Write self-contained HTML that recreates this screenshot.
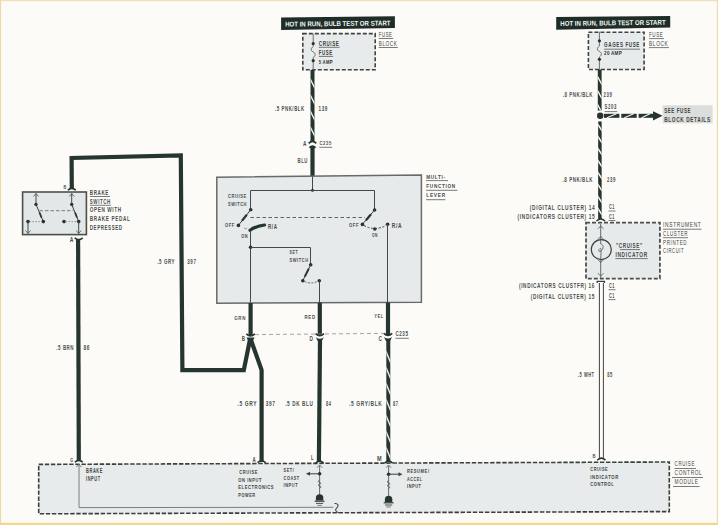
<!DOCTYPE html><html><head><meta charset="utf-8"><style>html,body{margin:0;padding:0;background:#fdfbf8;overflow:hidden}</style></head><body><svg width="718" height="525" viewBox="0 0 718 525" style="display:block">
<rect x="0" y="0" width="718" height="525" fill="#fdfbf8"/>
<rect x="0" y="1" width="718" height="1" fill="#fcf8e4"/>
<rect x="1" y="0" width="1" height="525" fill="#fdf9e2"/>
<rect x="716" y="0" width="1" height="525" fill="#fcf6df"/>
<rect x="0" y="522" width="718" height="1" fill="#fcf5dc"/>
<rect x="0" y="0" width="718" height="1" fill="#ecdfba"/>
<rect x="0" y="0" width="1" height="525" fill="#e9d9b2"/>
<rect x="717" y="0" width="1" height="525" fill="#eedcb0"/>
<rect x="0" y="523" width="718" height="2" fill="#f0d690"/>
<g font-family="Liberation Sans, sans-serif">
<path d="M281.1,17.4 L394.9,16.2 L394.9,28.1 L281.1,30 Z" fill="#1e2d27"/>
<text x="285.1" y="26.0" font-size="6.93" fill="#f6f8f6" font-weight="bold" text-anchor="start" textLength="105.4" lengthAdjust="spacingAndGlyphs" transform="rotate(-0.65 338 23)">HOT IN RUN, BULB TEST OR START</text>
<rect x="302.8" y="33.6" width="72.39999999999998" height="36.199999999999996" fill="#e8ebeb" stroke="#3f4442" stroke-width="1.6" stroke-dasharray="4 2"/>
<path d="M313.2,33.6 L313.2,43.6" fill="none" stroke="#6a706e" stroke-width="1.0" stroke-linejoin="miter" />
<path d="M313.2,43.6 L313.2,46.5" fill="none" stroke="#6a706e" stroke-width="1.0" stroke-linejoin="miter" />
<path d="M313.2,46.5 C310.5,48.5 310.5,50.5 313.2,52 C315.9,53.5 315.9,55.5 313.2,57.5" fill="none" stroke="#5a605e" stroke-width="0.9"/>
<path d="M313.2,57.5 L313.2,69.8" fill="none" stroke="#6a706e" stroke-width="1.0" stroke-linejoin="miter" />
<circle cx="313.2" cy="43.6" r="1.6" fill="#2b302e"/>
<circle cx="313.2" cy="60.7" r="1.6" fill="#2b302e"/>
<text x="318.8" y="45.8" font-size="6.82" fill="#3a3f3d" font-weight="bold" text-anchor="start" textLength="20.6" lengthAdjust="spacingAndGlyphs" letter-spacing="0.9">CRUISE</text>
<line x1="318.8" y1="47.3" x2="339.6" y2="47.3" stroke="#565b59" stroke-width="0.8"/>
<text x="318.8" y="55.2" font-size="6.82" fill="#3a3f3d" font-weight="bold" text-anchor="start" textLength="13.9" lengthAdjust="spacingAndGlyphs" letter-spacing="0.9">FUSE</text>
<line x1="318.8" y1="56.4" x2="333.2" y2="56.4" stroke="#565b59" stroke-width="0.8"/>
<text x="318.8" y="63.7" font-size="5.39" fill="#2c3230" font-weight="bold" text-anchor="start" textLength="13.9" lengthAdjust="spacingAndGlyphs" letter-spacing="0.3">5 AMP</text>
<text x="378.7" y="37.0" font-size="6.6" fill="#3a3f3d" font-weight="normal" text-anchor="start" textLength="13.9" lengthAdjust="spacingAndGlyphs" letter-spacing="0.9">FUSE</text>
<line x1="378.7" y1="38.5" x2="393.2" y2="38.5" stroke="#565b59" stroke-width="0.8"/>
<text x="378.7" y="45.8" font-size="6.6" fill="#3a3f3d" font-weight="normal" text-anchor="start" textLength="18.8" lengthAdjust="spacingAndGlyphs" letter-spacing="0.9">BLOCK</text>
<line x1="378.7" y1="47.5" x2="397.8" y2="47.5" stroke="#565b59" stroke-width="0.8"/>
<line x1="312.5" y1="70" x2="312.5" y2="141.6" stroke="#25352f" stroke-width="4.0"/>
<clipPath id="c312_70"><rect x="310.5" y="70" width="4.0" height="71.6"/></clipPath>
<path d="M310.0,78.5 L315.0,88.5 M310.0,94.5 L315.0,104.5 M310.0,110.5 L315.0,120.5 M310.0,126.5 L315.0,136.5" stroke="#f6f6f2" stroke-width="1.4" fill="none" clip-path="url(#c312_70)"/>
<path d="M308.7,143.4 Q312.5,139.2 316.3,143.4" fill="none" stroke="#25352f" stroke-width="1.7"/>
<path d="M308.7,147.2 Q312.5,143.4 316.3,147.2 L314.6,148.2 L310.4,148.2 Z" fill="#25352f"/>
<path d="M312.5,146.6 L312.5,176.5" fill="none" stroke="#25352f" stroke-width="4.2" stroke-linejoin="miter" />
<text x="303" y="145.8" font-size="6.6" fill="#4a4f4d" font-weight="bold" text-anchor="start" textLength="3.4" lengthAdjust="spacingAndGlyphs">A</text>
<text x="319.4" y="145.3" font-size="6.16" fill="#4a4f4d" font-weight="bold" text-anchor="start" textLength="12.5" lengthAdjust="spacingAndGlyphs" letter-spacing="0.9">C235</text>
<line x1="319.4" y1="147.3" x2="332.2" y2="147.3" stroke="#565b59" stroke-width="0.8"/>
<text x="274.9" y="111.2" font-size="6.93" fill="#4a4f4d" font-weight="bold" text-anchor="start" textLength="29.9" lengthAdjust="spacingAndGlyphs" letter-spacing="0.9">.5 PNK/BLK</text>
<text x="318.6" y="111.2" font-size="6.93" fill="#4a4f4d" font-weight="bold" text-anchor="start" textLength="9.4" lengthAdjust="spacingAndGlyphs" letter-spacing="0.9">139</text>
<text x="297.5" y="163.1" font-size="6.38" fill="#4a4f4d" font-weight="bold" text-anchor="start" textLength="10.5" lengthAdjust="spacingAndGlyphs" letter-spacing="0.9">BLU</text>
<path d="M216.8,177.2 L421.4,175 L421.4,302.2 L216.8,303.2 Z" fill="#e6eaea" stroke="#666b69" stroke-width="1.5"/>
<path d="M312.5,176.5 L312.5,190.5" fill="none" stroke="#434947" stroke-width="1.0" stroke-linejoin="miter" />
<circle cx="312.5" cy="190.3" r="1.5" fill="#2b302e"/>
<path d="M250.5,190.5 L374.5,190.5" fill="none" stroke="#434947" stroke-width="1.0" stroke-linejoin="miter" />
<path d="M250.5,190.5 L250.5,209.7" fill="none" stroke="#434947" stroke-width="1.0" stroke-linejoin="miter" />
<path d="M374.5,190.5 L374.5,210" fill="none" stroke="#434947" stroke-width="1.0" stroke-linejoin="miter" />
<circle cx="250.7" cy="209.7" r="1.8" fill="#2b302e"/>
<circle cx="374.6" cy="210" r="1.8" fill="#2b302e"/>
<path d="M250.7,209.7 L238.4,225.4" fill="none" stroke="#3a403e" stroke-width="1.0" stroke-linejoin="miter" />
<path d="M246.8,214.8 L242,220.8" fill="none" stroke="#2e3432" stroke-width="2.2" stroke-linejoin="miter" />
<circle cx="238.4" cy="225.4" r="1.8" fill="#2b302e"/>
<path d="M244,227.8 Q245.5,229.8 247,228.2" fill="none" stroke="#6a706e" stroke-width="0.7"/>
<path d="M250,230.3 Q256,226 264.5,225" fill="none" stroke="#25352f" stroke-width="3.2" stroke-linecap="round"/>
<path d="M250.5,230.5 L250.5,302.5" fill="none" stroke="#434947" stroke-width="1.0" stroke-linejoin="miter" />
<circle cx="250.6" cy="247.3" r="1.8" fill="#2b302e"/>
<path d="M250.5,247.5 L310.5,247.5" fill="none" stroke="#434947" stroke-width="1.0" stroke-linejoin="miter" />
<path d="M310.5,247.5 L310.5,264.7" fill="none" stroke="#434947" stroke-width="1.0" stroke-linejoin="miter" />
<circle cx="310.7" cy="264.7" r="1.8" fill="#2b302e"/>
<path d="M310.7,264.7 L302.8,280.7" fill="none" stroke="#3a403e" stroke-width="1.0" stroke-linejoin="miter" />
<path d="M308.8,268.6 L304.8,276.6" fill="none" stroke="#2e3432" stroke-width="2.0" stroke-linejoin="miter" />
<circle cx="302.8" cy="280.7" r="1.8" fill="#2b302e"/>
<circle cx="319.3" cy="280.7" r="1.8" fill="#2b302e"/>
<path d="M304.5,281.5 Q311,284.5 317.5,281.5" fill="none" stroke="#4a504e" stroke-width="0.9" stroke-dasharray="2 1.5"/>
<path d="M319.5,280.7 L319.5,302.5" fill="none" stroke="#434947" stroke-width="1.0" stroke-linejoin="miter" />
<path d="M250.5,217.5 L365,217.5" fill="none" stroke="#4f5553" stroke-width="0.9" stroke-linejoin="miter" stroke-dasharray="3.5 2.5"/>
<path d="M374.6,210 L362.4,224.4" fill="none" stroke="#3a403e" stroke-width="1.0" stroke-linejoin="miter" />
<path d="M371,214.2 L366,220.2" fill="none" stroke="#2e3432" stroke-width="2.2" stroke-linejoin="miter" />
<circle cx="362.4" cy="224.4" r="1.8" fill="#2b302e"/>
<circle cx="374.8" cy="229" r="1.8" fill="#2b302e"/>
<circle cx="387.6" cy="224.2" r="1.8" fill="#2b302e"/>
<path d="M364,225.5 Q374.8,231.5 386,225.5" fill="none" stroke="#3f4543" stroke-width="1" stroke-dasharray="2.2 1.6"/>
<path d="M387.5,224.2 L387.5,302.5" fill="none" stroke="#434947" stroke-width="1.0" stroke-linejoin="miter" />
<text x="228" y="198.2" font-size="6.16" fill="#4a4f4d" font-weight="bold" text-anchor="start" textLength="18.7" lengthAdjust="spacingAndGlyphs" letter-spacing="0.9">CRUISE</text>
<text x="228" y="205.8" font-size="6.16" fill="#4a4f4d" font-weight="bold" text-anchor="start" textLength="19" lengthAdjust="spacingAndGlyphs" letter-spacing="0.9">SWITCH</text>
<text x="224.9" y="227.4" font-size="6.16" fill="#4a4f4d" font-weight="bold" text-anchor="start" textLength="9.9" lengthAdjust="spacingAndGlyphs" letter-spacing="0.9">OFF</text>
<text x="241.2" y="237.7" font-size="6.16" fill="#4a4f4d" font-weight="bold" text-anchor="start" textLength="7" lengthAdjust="spacingAndGlyphs" letter-spacing="0.9">ON</text>
<text x="268" y="228.6" font-size="6.82" fill="#454a48" font-weight="bold" text-anchor="start" textLength="9.5" lengthAdjust="spacingAndGlyphs" letter-spacing="0.9">R/A</text>
<text x="289.5" y="254.4" font-size="6.16" fill="#4a4f4d" font-weight="bold" text-anchor="start" textLength="8.7" lengthAdjust="spacingAndGlyphs" letter-spacing="0.9">SET</text>
<text x="289.5" y="262" font-size="6.16" fill="#4a4f4d" font-weight="bold" text-anchor="start" textLength="19.1" lengthAdjust="spacingAndGlyphs" letter-spacing="0.9">SWITCH</text>
<text x="349" y="227.2" font-size="6.16" fill="#4a4f4d" font-weight="bold" text-anchor="start" textLength="10" lengthAdjust="spacingAndGlyphs" letter-spacing="0.9">OFF</text>
<text x="372" y="237.1" font-size="6.16" fill="#4a4f4d" font-weight="bold" text-anchor="start" textLength="6" lengthAdjust="spacingAndGlyphs" letter-spacing="0.9">ON</text>
<text x="391.8" y="227.5" font-size="6.82" fill="#454a48" font-weight="bold" text-anchor="start" textLength="10.4" lengthAdjust="spacingAndGlyphs" letter-spacing="0.9">R/A</text>
<text x="426.3" y="178.9" font-size="5.83" fill="#454a48" font-weight="bold" text-anchor="start" textLength="19.5" lengthAdjust="spacingAndGlyphs" letter-spacing="0.9">MULTI-</text>
<line x1="426" y1="180.6" x2="448" y2="180.6" stroke="#565b59" stroke-width="0.8"/>
<text x="426.3" y="188.0" font-size="5.83" fill="#454a48" font-weight="bold" text-anchor="start" textLength="29.6" lengthAdjust="spacingAndGlyphs" letter-spacing="0.9">FUNCTION</text>
<line x1="426" y1="190.3" x2="457.5" y2="190.3" stroke="#565b59" stroke-width="0.8"/>
<text x="426.3" y="197.4" font-size="5.83" fill="#454a48" font-weight="bold" text-anchor="start" textLength="19.5" lengthAdjust="spacingAndGlyphs" letter-spacing="0.9">LEVER</text>
<line x1="426" y1="199.7" x2="445.5" y2="199.7" stroke="#565b59" stroke-width="0.8"/>
<path d="M250.6,303 L250.6,335.2" fill="none" stroke="#25352f" stroke-width="4.2" stroke-linejoin="miter" />
<path d="M246.3,333.8 Q250.6,337.8 254.9,333.8" fill="none" stroke="#25352f" stroke-width="1.6"/>
<path d="M319.8,302.5 L319.8,335" fill="none" stroke="#25352f" stroke-width="4.2" stroke-linejoin="miter" />
<path d="M315.6,333.6 Q319.8,337.6 324,333.6" fill="none" stroke="#25352f" stroke-width="1.6"/>
<path d="M388,302.5 L388,335" fill="none" stroke="#25352f" stroke-width="4.2" stroke-linejoin="miter" />
<path d="M383.8,333.4 Q388,337.4 392.2,333.4" fill="none" stroke="#25352f" stroke-width="1.6"/>
<path d="M255,334.6 L384,333.4" fill="none" stroke="#8a8f8d" stroke-width="0.8" stroke-linejoin="miter" stroke-dasharray="4 3"/>
<path d="M246.5,337.6 L254.6,337.6 L252.8,341 L248.3,341 Z" fill="#25352f"/>
<path d="M315.8,337.2 Q319.8,340.4 323.8,337.2 L321.9,341 L317.7,341 Z" fill="#25352f"/>
<path d="M384,337 Q388,340.2 392,337 L390.1,341 L385.9,341 Z" fill="#25352f"/>
<path d="M250.8,339.5 L261.6,370 L261.6,462" fill="none" stroke="#25352f" stroke-width="4.2" stroke-linejoin="miter" />
<path d="M320,339.5 L318.9,461.5" fill="none" stroke="#25352f" stroke-width="4.2" stroke-linejoin="miter" />
<line x1="388.3" y1="339.5" x2="388.3" y2="461.5" stroke="#25352f" stroke-width="4.0"/>
<clipPath id="c388_339"><rect x="386.3" y="339.5" width="4.0" height="122.0"/></clipPath>
<path d="M385.8,351.0 L390.8,363.0 M385.8,367.0 L390.8,379.0 M385.8,383.0 L390.8,395.0 M385.8,399.0 L390.8,411.0 M385.8,415.0 L390.8,427.0 M385.8,431.0 L390.8,443.0 M385.8,447.0 L390.8,459.0" stroke="#f6f6f2" stroke-width="1.4" fill="none" clip-path="url(#c388_339)"/>
<path d="M71.8,189 L71.6,158 L180.8,155.4 L182.4,370.1 L243.8,370.1 L250,339.5" fill="none" stroke="#25352f" stroke-width="4.2" stroke-linejoin="miter" />
<text x="234.2" y="319.9" font-size="6.16" fill="#4a4f4d" font-weight="bold" text-anchor="start" textLength="11.8" lengthAdjust="spacingAndGlyphs" letter-spacing="0.9">GRN</text>
<text x="304.5" y="318.8" font-size="6.16" fill="#4a4f4d" font-weight="bold" text-anchor="start" textLength="11.2" lengthAdjust="spacingAndGlyphs" letter-spacing="0.9">RED</text>
<text x="374.2" y="318.2" font-size="6.16" fill="#4a4f4d" font-weight="bold" text-anchor="start" textLength="9.6" lengthAdjust="spacingAndGlyphs" letter-spacing="0.9">YEL</text>
<text x="241.8" y="341" font-size="6.6" fill="#4a4f4d" font-weight="bold" text-anchor="start" textLength="3.2" lengthAdjust="spacingAndGlyphs">B</text>
<text x="309.6" y="341.2" font-size="6.6" fill="#4a4f4d" font-weight="bold" text-anchor="start" textLength="3.4" lengthAdjust="spacingAndGlyphs">D</text>
<text x="378.4" y="341.2" font-size="6.6" fill="#4a4f4d" font-weight="bold" text-anchor="start" textLength="3.4" lengthAdjust="spacingAndGlyphs">C</text>
<text x="395.4" y="335.8" font-size="6.38" fill="#4a4f4d" font-weight="bold" text-anchor="start" textLength="13.2" lengthAdjust="spacingAndGlyphs" letter-spacing="0.9">C235</text>
<line x1="395.4" y1="338.3" x2="408.8" y2="338.3" stroke="#565b59" stroke-width="0.8"/>
<text x="237.5" y="405.5" font-size="6.82" fill="#4a4f4d" font-weight="bold" text-anchor="start" textLength="19.6" lengthAdjust="spacingAndGlyphs" letter-spacing="0.9">.5 GRY</text>
<text x="265.8" y="405.5" font-size="6.82" fill="#4a4f4d" font-weight="bold" text-anchor="start" textLength="9.8" lengthAdjust="spacingAndGlyphs" letter-spacing="0.9">397</text>
<text x="285.2" y="405.5" font-size="6.82" fill="#4a4f4d" font-weight="bold" text-anchor="start" textLength="28.3" lengthAdjust="spacingAndGlyphs" letter-spacing="0.9">.5 DK BLU</text>
<text x="326" y="405.5" font-size="6.82" fill="#4a4f4d" font-weight="bold" text-anchor="start" textLength="5.5" lengthAdjust="spacingAndGlyphs" letter-spacing="0.9">84</text>
<text x="349" y="405.5" font-size="6.82" fill="#4a4f4d" font-weight="bold" text-anchor="start" textLength="33.4" lengthAdjust="spacingAndGlyphs" letter-spacing="0.9">.5 GRY/BLK</text>
<text x="393" y="405.5" font-size="6.82" fill="#4a4f4d" font-weight="bold" text-anchor="start" textLength="5.5" lengthAdjust="spacingAndGlyphs" letter-spacing="0.9">87</text>
<text x="157.3" y="264" font-size="6.82" fill="#4a4f4d" font-weight="bold" text-anchor="start" textLength="17.7" lengthAdjust="spacingAndGlyphs" letter-spacing="0.9">.5 GRY</text>
<text x="187.3" y="264" font-size="6.82" fill="#4a4f4d" font-weight="bold" text-anchor="start" textLength="9.2" lengthAdjust="spacingAndGlyphs" letter-spacing="0.9">397</text>
<rect x="22.6" y="192" width="63.8" height="42.6" fill="#e2e7e7" stroke="#4a504e" stroke-width="1.6"/>
<path d="M36,193.5 L36,204.4" fill="none" stroke="#434947" stroke-width="1.0" stroke-linejoin="miter" />
<path d="M33.5,196.5 L36,193.5 L38.5,196.5" fill="none" stroke="#50565a" stroke-width="0.8"/>
<circle cx="36" cy="204.4" r="1.7" fill="#2b302e"/>
<path d="M36,204.4 L43.3,221.6" fill="none" stroke="#3a403e" stroke-width="1.0" stroke-linejoin="miter" />
<path d="M39.5,212.5 L41.5,217.5" fill="none" stroke="#2e3432" stroke-width="1.8" stroke-linejoin="miter" />
<circle cx="43.3" cy="221.6" r="1.8" fill="#2b302e"/>
<circle cx="28" cy="221.6" r="1.8" fill="#2b302e"/>
<path d="M29.5,221.6 L41.5,221.6" fill="none" stroke="#7a807e" stroke-width="0.8" stroke-linejoin="miter" stroke-dasharray="1.5 1.5"/>
<path d="M28,221.6 L28,233.5" fill="none" stroke="#434947" stroke-width="1.0" stroke-linejoin="miter" />
<path d="M25.5,230.5 L28,233.5 L30.5,230.5" fill="none" stroke="#50565a" stroke-width="0.8"/>
<path d="M71.7,193.5 L71.7,204.4" fill="none" stroke="#434947" stroke-width="1.0" stroke-linejoin="miter" />
<path d="M69.2,196.5 L71.7,193.5 L74.2,196.5" fill="none" stroke="#50565a" stroke-width="0.8"/>
<circle cx="71.7" cy="204.4" r="1.7" fill="#2b302e"/>
<path d="M71.7,204.4 L78.7,221.6" fill="none" stroke="#3a403e" stroke-width="1.0" stroke-linejoin="miter" />
<path d="M75,212.5 L77,217.5" fill="none" stroke="#2e3432" stroke-width="1.8" stroke-linejoin="miter" />
<circle cx="78.7" cy="221.6" r="1.8" fill="#2b302e"/>
<circle cx="64" cy="221.6" r="1.8" fill="#2b302e"/>
<path d="M65.5,221.6 L77,221.6" fill="none" stroke="#7a807e" stroke-width="0.8" stroke-linejoin="miter" stroke-dasharray="1.5 1.5"/>
<path d="M78.7,221.6 L78.7,233.5" fill="none" stroke="#434947" stroke-width="1.0" stroke-linejoin="miter" />
<path d="M76.2,230.5 L78.7,233.5 L81.2,230.5" fill="none" stroke="#50565a" stroke-width="0.8"/>
<path d="M39.5,210.7 L73.5,210.7" fill="none" stroke="#6a706e" stroke-width="0.9" stroke-linejoin="miter" stroke-dasharray="3.5 2"/>
<path d="M67.8,190.2 Q71.8,186.6 75.8,190.2" fill="none" stroke="#25352f" stroke-width="1.6"/>
<path d="M74.7,237.8 Q78.7,241.4 82.7,237.8" fill="none" stroke="#25352f" stroke-width="1.6"/>
<path d="M78.1,239.5 L78.8,460.5" fill="none" stroke="#25352f" stroke-width="4.2" stroke-linejoin="miter" />
<text x="63.6" y="188.8" font-size="5.94" fill="#4a4f4d" font-weight="bold" text-anchor="start" textLength="2.8" lengthAdjust="spacingAndGlyphs">B</text>
<text x="69.8" y="242.2" font-size="6.6" fill="#4a4f4d" font-weight="bold" text-anchor="start" textLength="3.6" lengthAdjust="spacingAndGlyphs">A</text>
<text x="89.8" y="194.8" font-size="6.93" fill="#4a4f4d" font-weight="bold" text-anchor="start" textLength="19.2" lengthAdjust="spacingAndGlyphs" letter-spacing="0.9">BRAKE</text>
<line x1="89.8" y1="196.5" x2="110" y2="196.5" stroke="#565b59" stroke-width="0.8"/>
<text x="89.8" y="203.6" font-size="6.93" fill="#4a4f4d" font-weight="bold" text-anchor="start" textLength="21.1" lengthAdjust="spacingAndGlyphs" letter-spacing="0.9">SWITCH</text>
<line x1="89.8" y1="205.3" x2="110.9" y2="205.3" stroke="#565b59" stroke-width="0.8"/>
<text x="89.8" y="212.2" font-size="6.93" fill="#4a4f4d" font-weight="bold" text-anchor="start" textLength="31.9" lengthAdjust="spacingAndGlyphs" letter-spacing="0.9">OPEN WITH</text>
<text x="89.8" y="221.0" font-size="6.93" fill="#4a4f4d" font-weight="bold" text-anchor="start" textLength="40.7" lengthAdjust="spacingAndGlyphs" letter-spacing="0.9">BRAKE PEDAL</text>
<text x="89.8" y="229.8" font-size="6.93" fill="#4a4f4d" font-weight="bold" text-anchor="start" textLength="32.8" lengthAdjust="spacingAndGlyphs" letter-spacing="0.9">DEPRESSED</text>
<text x="56.3" y="350" font-size="6.93" fill="#4a4f4d" font-weight="bold" text-anchor="start" textLength="17.8" lengthAdjust="spacingAndGlyphs" letter-spacing="0.9">.5 BRN</text>
<text x="83.6" y="350" font-size="6.93" fill="#4a4f4d" font-weight="bold" text-anchor="start" textLength="6.5" lengthAdjust="spacingAndGlyphs" letter-spacing="0.9">86</text>
<path d="M38.7,464.4 L669.3,462 L669.3,511.6 L38.7,513.8 Z" fill="#e7ebeb" stroke="#3a403e" stroke-width="1.6" stroke-dasharray="4.4 1.7"/>
<path d="M79,465 L79,507.6 L333.4,507.3" fill="none" stroke="#7a807e" stroke-width="1.0" stroke-linejoin="miter" />
<path d="M334.5,503.5 C338.5,503 338.8,506 336.8,507.8 C334.8,509.6 335.5,512.5 339.5,512.8" fill="none" stroke="#3f4543" stroke-width="1.1"/>
<path d="M74.8,462.3 Q78.8,458.5 82.8,462.3" fill="none" stroke="#25352f" stroke-width="1.5"/>
<path d="M76.3,467.0 L78.8,464.3 L81.3,467.0" fill="none" stroke="#50565a" stroke-width="0.8"/>
<path d="M257.6,462.6 Q261.6,458.8 265.6,462.6" fill="none" stroke="#25352f" stroke-width="1.5"/>
<path d="M315.6,463.0 Q319.6,459.2 323.6,463.0" fill="none" stroke="#25352f" stroke-width="1.5"/>
<path d="M317.1,467.7 L319.6,465.0 L322.1,467.7" fill="none" stroke="#50565a" stroke-width="0.8"/>
<path d="M384.6,463.0 Q388.6,459.2 392.6,463.0" fill="none" stroke="#25352f" stroke-width="1.5"/>
<path d="M386.1,467.7 L388.6,465.0 L391.1,467.7" fill="none" stroke="#50565a" stroke-width="0.8"/>
<text x="70.2" y="461.6" font-size="6.16" fill="#4a4f4d" font-weight="bold" text-anchor="start" textLength="3" lengthAdjust="spacingAndGlyphs">G</text>
<text x="86.1" y="473.4" font-size="6.38" fill="#3f4442" font-weight="bold" text-anchor="start" textLength="16.8" lengthAdjust="spacingAndGlyphs" letter-spacing="0.9">BRAKE</text>
<text x="86.1" y="480.7" font-size="6.38" fill="#3f4442" font-weight="bold" text-anchor="start" textLength="14.5" lengthAdjust="spacingAndGlyphs" letter-spacing="0.9">INPUT</text>
<text x="252.4" y="462.4" font-size="6.6" fill="#4a4f4d" font-weight="bold" text-anchor="start" textLength="3.2" lengthAdjust="spacingAndGlyphs">A</text>
<text x="239.3" y="473.9" font-size="6.16" fill="#3f4442" font-weight="bold" text-anchor="start" textLength="18.6" lengthAdjust="spacingAndGlyphs" letter-spacing="0.9">CRUISE</text>
<text x="238.3" y="481.5" font-size="6.16" fill="#3f4442" font-weight="bold" text-anchor="start" textLength="23.7" lengthAdjust="spacingAndGlyphs" letter-spacing="0.9">ON INPUT</text>
<text x="238.3" y="489.1" font-size="6.16" fill="#3f4442" font-weight="bold" text-anchor="start" textLength="35.7" lengthAdjust="spacingAndGlyphs" letter-spacing="0.9">ELECTRONICS</text>
<text x="238.3" y="496.8" font-size="6.16" fill="#3f4442" font-weight="bold" text-anchor="start" textLength="17.4" lengthAdjust="spacingAndGlyphs" letter-spacing="0.9">POWER</text>
<text x="310.9" y="460.2" font-size="6.6" fill="#4a4f4d" font-weight="bold" text-anchor="start" textLength="2.6" lengthAdjust="spacingAndGlyphs">L</text>
<text x="283.6" y="472.2" font-size="6.16" fill="#3f4442" font-weight="bold" text-anchor="start" textLength="10.7" lengthAdjust="spacingAndGlyphs" letter-spacing="0.9">SET/</text>
<text x="283.6" y="479.8" font-size="6.16" fill="#3f4442" font-weight="bold" text-anchor="start" textLength="16.1" lengthAdjust="spacingAndGlyphs" letter-spacing="0.9">COAST</text>
<text x="283.6" y="487.2" font-size="6.16" fill="#3f4442" font-weight="bold" text-anchor="start" textLength="14.5" lengthAdjust="spacingAndGlyphs" letter-spacing="0.9">INPUT</text>
<text x="377" y="460.8" font-size="6.6" fill="#4a4f4d" font-weight="bold" text-anchor="start" textLength="4.6" lengthAdjust="spacingAndGlyphs">M</text>
<text x="407" y="473" font-size="6.16" fill="#3f4442" font-weight="bold" text-anchor="start" textLength="22.6" lengthAdjust="spacingAndGlyphs" letter-spacing="0.9">RESUME/</text>
<text x="407" y="480.6" font-size="6.16" fill="#3f4442" font-weight="bold" text-anchor="start" textLength="15.5" lengthAdjust="spacingAndGlyphs" letter-spacing="0.9">ACCEL</text>
<text x="407" y="488" font-size="6.16" fill="#3f4442" font-weight="bold" text-anchor="start" textLength="14.5" lengthAdjust="spacingAndGlyphs" letter-spacing="0.9">INPUT</text>
<path d="M319.6,466 L319.6,497.4" fill="none" stroke="#5a605e" stroke-width="0.9" stroke-linejoin="miter" />
<circle cx="319.6" cy="473.8" r="1.8" fill="#2b302e"/>
<path d="M319.6,473.8 L308.5,473.8" fill="none" stroke="#3a403e" stroke-width="1" stroke-linejoin="miter" />
<path d="M306,473.8 L310,471.8 L310,475.8 Z" fill="#3a403e"/>
<path d="M319.6,479.8 l-1.5,1.8 l3,1.8 l-3,1.8 l3,1.8 l-1.5,1.2" fill="none" stroke="#5a605e" stroke-width="0.8"/>
<path d="M315.90000000000003,500.59999999999997 L315.90000000000003,497.9 A3.7,3.7 0 0 1 323.3,497.9 L323.3,500.59999999999997 Z" fill="#25352f"/>
<path d="M314.70000000000005,501.2 L324.5,501.2" fill="none" stroke="#2f3532" stroke-width="1.2" stroke-linejoin="miter" />
<path d="M316.0,503.4 L323.20000000000005,503.4" fill="none" stroke="#4a504e" stroke-width="1.0" stroke-linejoin="miter" />
<path d="M317.40000000000003,505.4 L321.8,505.4" fill="none" stroke="#6a706e" stroke-width="0.9" stroke-linejoin="miter" />
<path d="M388.6,466 L388.6,499" fill="none" stroke="#5a605e" stroke-width="0.9" stroke-linejoin="miter" />
<circle cx="388.6" cy="474.2" r="1.8" fill="#2b302e"/>
<path d="M388.6,474.2 L400,474.2" fill="none" stroke="#3a403e" stroke-width="1" stroke-linejoin="miter" />
<path d="M402.5,474.2 L398.5,472.2 L398.5,476.2 Z" fill="#3a403e"/>
<path d="M388.6,480.2 l-1.5,1.8 l3,1.8 l-3,1.8 l3,1.8 l-1.5,1.2" fill="none" stroke="#5a605e" stroke-width="0.8"/>
<path d="M384.90000000000003,502.2 L384.90000000000003,499.5 A3.7,3.7 0 0 1 392.3,499.5 L392.3,502.2 Z" fill="#25352f"/>
<path d="M383.70000000000005,502.8 L393.5,502.8" fill="none" stroke="#2f3532" stroke-width="1.2" stroke-linejoin="miter" />
<path d="M385.0,505.0 L392.20000000000005,505.0" fill="none" stroke="#4a504e" stroke-width="1.0" stroke-linejoin="miter" />
<path d="M386.40000000000003,507.0 L390.8,507.0" fill="none" stroke="#6a706e" stroke-width="0.9" stroke-linejoin="miter" />
<text x="592.4" y="458.4" font-size="6.16" fill="#4a4f4d" font-weight="bold" text-anchor="start" textLength="3" lengthAdjust="spacingAndGlyphs">B</text>
<text x="590.3" y="471.4" font-size="6.16" fill="#3f4442" font-weight="bold" text-anchor="start" textLength="17.9" lengthAdjust="spacingAndGlyphs" letter-spacing="0.9">CRUISE</text>
<text x="590.3" y="478.8" font-size="6.16" fill="#3f4442" font-weight="bold" text-anchor="start" textLength="28.5" lengthAdjust="spacingAndGlyphs" letter-spacing="0.9">INDICATOR</text>
<text x="590.3" y="486.2" font-size="6.16" fill="#3f4442" font-weight="bold" text-anchor="start" textLength="24.1" lengthAdjust="spacingAndGlyphs" letter-spacing="0.9">CONTROL</text>
<text x="674.6" y="465.9" font-size="6.82" fill="#3a3f3d" font-weight="normal" text-anchor="start" textLength="20.4" lengthAdjust="spacingAndGlyphs" letter-spacing="0.9">CRUISE</text>
<line x1="674.4" y1="468.5" x2="696" y2="468.5" stroke="#565b59" stroke-width="0.8"/>
<text x="674.6" y="475.0" font-size="6.82" fill="#3a3f3d" font-weight="normal" text-anchor="start" textLength="27.8" lengthAdjust="spacingAndGlyphs" letter-spacing="0.9">CONTROL</text>
<line x1="672" y1="477.5" x2="703" y2="477.5" stroke="#565b59" stroke-width="0.8"/>
<text x="674.6" y="484.0" font-size="6.82" fill="#3a3f3d" font-weight="normal" text-anchor="start" textLength="24" lengthAdjust="spacingAndGlyphs" letter-spacing="0.9">MODULE</text>
<line x1="673" y1="486.5" x2="699.5" y2="486.5" stroke="#565b59" stroke-width="0.8"/>
<path d="M556.2,16.9 L670.2,15.9 L670.2,27.6 L556.2,29.7 Z" fill="#1e2d27"/>
<text x="560.3" y="25.3" font-size="6.93" fill="#f6f8f6" font-weight="bold" text-anchor="start" textLength="105.3" lengthAdjust="spacingAndGlyphs" transform="rotate(-0.65 613 22)">HOT IN RUN, BULB TEST OR START</text>
<rect x="588.4" y="32.3" width="55.700000000000045" height="37.2" fill="#e8ebeb" stroke="#3f4442" stroke-width="1.6" stroke-dasharray="4 2"/>
<path d="M599.4,31.7 L599.4,46" fill="none" stroke="#6a706e" stroke-width="1.0" stroke-linejoin="miter" />
<path d="M599.4,46 C596.7,48 596.7,50 599.4,51.5 C602.1,53 602.1,55 599.4,57" fill="none" stroke="#5a605e" stroke-width="0.9"/>
<path d="M599.4,57 L599.4,69.5" fill="none" stroke="#6a706e" stroke-width="1.0" stroke-linejoin="miter" />
<circle cx="599.4" cy="40.8" r="1.6" fill="#2b302e"/>
<circle cx="599.4" cy="59.3" r="1.6" fill="#2b302e"/>
<text x="604.1" y="47.4" font-size="6.82" fill="#3a3f3d" font-weight="bold" text-anchor="start" textLength="35.9" lengthAdjust="spacingAndGlyphs" letter-spacing="0.9">GAGES FUSE</text>
<line x1="604.1" y1="49.2" x2="640" y2="49.2" stroke="#565b59" stroke-width="0.8"/>
<text x="604.1" y="54.6" font-size="5.39" fill="#2c3230" font-weight="bold" text-anchor="start" textLength="17.9" lengthAdjust="spacingAndGlyphs" letter-spacing="0.3">20 AMP</text>
<text x="649" y="36.8" font-size="6.6" fill="#3a3f3d" font-weight="normal" text-anchor="start" textLength="14.4" lengthAdjust="spacingAndGlyphs" letter-spacing="0.9">FUSE</text>
<line x1="649" y1="38.6" x2="664" y2="38.6" stroke="#565b59" stroke-width="0.8"/>
<text x="649" y="45.6" font-size="6.6" fill="#3a3f3d" font-weight="normal" text-anchor="start" textLength="19.4" lengthAdjust="spacingAndGlyphs" letter-spacing="0.9">BLOCK</text>
<line x1="649" y1="47.6" x2="669" y2="47.6" stroke="#565b59" stroke-width="0.8"/>
<line x1="599.7" y1="69.5" x2="599.7" y2="110.5" stroke="#25352f" stroke-width="3.8"/>
<clipPath id="c599_69"><rect x="597.8000000000001" y="69.5" width="3.8" height="41.0"/></clipPath>
<path d="M597.3000000000001,76.0 L602.1,85.0 M597.3000000000001,90.0 L602.1,99.0 M597.3000000000001,104.0 L602.1,113.0" stroke="#f6f6f2" stroke-width="1.4" fill="none" clip-path="url(#c599_69)"/>
<line x1="599.9" y1="121.5" x2="599.9" y2="219" stroke="#25352f" stroke-width="3.5"/>
<clipPath id="c599_121"><rect x="598.15" y="121.5" width="3.5" height="97.5"/></clipPath>
<path d="M597.65,124.0 L602.15,131.0 M597.65,136.0 L602.15,143.0 M597.65,148.0 L602.15,155.0 M597.65,160.0 L602.15,167.0 M597.65,172.0 L602.15,179.0 M597.65,184.0 L602.15,191.0 M597.65,196.0 L602.15,203.0 M597.65,208.0 L602.15,215.0" stroke="#f6f6f2" stroke-width="1.5" fill="none" clip-path="url(#c599_121)"/>
<circle cx="600.2" cy="115.8" r="3.2" fill="#2b302e"/>
<rect x="604" y="113.8" width="15.399999999999977" height="4" fill="#25352f"/>
<path d="M607,117.8 L616.4,113.8" stroke="#f4f4f0" stroke-width="1.1"/>
<rect x="621.3" y="113.8" width="15.400000000000091" height="4" fill="#25352f"/>
<path d="M624.3,117.8 L633.7,113.8" stroke="#f4f4f0" stroke-width="1.1"/>
<rect x="638.6" y="113.8" width="14.399999999999977" height="4" fill="#25352f"/>
<path d="M641.6,117.8 L650,113.8" stroke="#f4f4f0" stroke-width="1.1"/>
<path d="M653,111.2 L662.6,115.8 L653,120.4 Z" fill="#25352f"/>
<rect x="662.6" y="105.2" width="50" height="18.2" fill="#dcdedd"/>
<text x="664.2" y="113.0" font-size="6.82" fill="#404543" font-weight="bold" text-anchor="start" textLength="26.9" lengthAdjust="spacingAndGlyphs" letter-spacing="0.9">SEE FUSE</text>
<text x="664.2" y="122.0" font-size="6.82" fill="#404543" font-weight="bold" text-anchor="start" textLength="46.5" lengthAdjust="spacingAndGlyphs" letter-spacing="0.9">BLOCK DETAILS</text>
<text x="562.7" y="97" font-size="6.82" fill="#4a4f4d" font-weight="bold" text-anchor="start" textLength="30.3" lengthAdjust="spacingAndGlyphs" letter-spacing="0.9">.8 PNK/BLK</text>
<text x="603.6" y="97" font-size="6.82" fill="#4a4f4d" font-weight="bold" text-anchor="start" textLength="8.8" lengthAdjust="spacingAndGlyphs" letter-spacing="0.9">239</text>
<text x="604.6" y="109.4" font-size="6.6" fill="#4a4f4d" font-weight="bold" text-anchor="start" textLength="12.3" lengthAdjust="spacingAndGlyphs" letter-spacing="0.9">S203</text>
<line x1="604.6" y1="111.6" x2="617.2" y2="111.6" stroke="#565b59" stroke-width="0.8"/>
<text x="562.5" y="182.2" font-size="6.82" fill="#4a4f4d" font-weight="bold" text-anchor="start" textLength="30.5" lengthAdjust="spacingAndGlyphs" letter-spacing="0.9">.8 PNK/BLK</text>
<text x="607" y="182.2" font-size="6.82" fill="#4a4f4d" font-weight="bold" text-anchor="start" textLength="9" lengthAdjust="spacingAndGlyphs" letter-spacing="0.9">239</text>
<text x="529.8" y="210.2" font-size="6.82" fill="#4a4f4d" font-weight="bold" text-anchor="start" textLength="65.6" lengthAdjust="spacingAndGlyphs" letter-spacing="0.9">(DIGITAL CLUSTER) 14</text>
<text x="517.6" y="219.3" font-size="6.82" fill="#4a4f4d" font-weight="bold" text-anchor="start" textLength="77.8" lengthAdjust="spacingAndGlyphs" letter-spacing="0.9">(INDICATORS CLUSTER) 15</text>
<text x="609" y="209" font-size="6.6" fill="#4a4f4d" font-weight="bold" text-anchor="start" textLength="5.8" lengthAdjust="spacingAndGlyphs" letter-spacing="0.9">C1</text>
<line x1="608.5" y1="211" x2="615.5" y2="211" stroke="#565b59" stroke-width="0.8"/>
<text x="609" y="218.5" font-size="6.6" fill="#4a4f4d" font-weight="bold" text-anchor="start" textLength="5.8" lengthAdjust="spacingAndGlyphs" letter-spacing="0.9">C1</text>
<line x1="608.5" y1="220.5" x2="615.5" y2="220.5" stroke="#565b59" stroke-width="0.8"/>
<text x="519" y="287.9" font-size="6.82" fill="#4a4f4d" font-weight="bold" text-anchor="start" textLength="76" lengthAdjust="spacingAndGlyphs" letter-spacing="0.9">(INDICATORS CLUSTFR) 16</text>
<text x="530.7" y="298.6" font-size="6.82" fill="#4a4f4d" font-weight="bold" text-anchor="start" textLength="64.3" lengthAdjust="spacingAndGlyphs" letter-spacing="0.9">(DIGITAL CLUSTER) 15</text>
<text x="609" y="287.7" font-size="6.6" fill="#4a4f4d" font-weight="bold" text-anchor="start" textLength="5.8" lengthAdjust="spacingAndGlyphs" letter-spacing="0.9">C1</text>
<line x1="608.5" y1="289.7" x2="615.5" y2="289.7" stroke="#565b59" stroke-width="0.8"/>
<text x="609" y="297.6" font-size="6.6" fill="#4a4f4d" font-weight="bold" text-anchor="start" textLength="5.8" lengthAdjust="spacingAndGlyphs" letter-spacing="0.9">C1</text>
<line x1="608.5" y1="299.6" x2="615.5" y2="299.6" stroke="#565b59" stroke-width="0.8"/>
<rect x="586" y="222.6" width="73.89999999999998" height="56.00000000000003" fill="#e6eaea" stroke="#4a4f4d" stroke-width="1.8" stroke-dasharray="4 2"/>
<path d="M596.4,221 Q600.7,217 605,221" fill="none" stroke="#25352f" stroke-width="1.5"/>
<path d="M600.7,224 L600.7,239.5" fill="none" stroke="#5a605e" stroke-width="0.9" stroke-linejoin="miter" />
<path d="M600.7,259.5 L600.7,278" fill="none" stroke="#5a605e" stroke-width="0.9" stroke-linejoin="miter" />
<path d="M597.9000000000001,228.8 L600.7,226 L603.5,228.8" fill="none" stroke="#4a504e" stroke-width="0.8"/>
<path d="M597.9000000000001,239.3 L600.7,236.5 L603.5,239.3" fill="none" stroke="#4a504e" stroke-width="0.8"/>
<path d="M597.9000000000001,259.7 L600.7,262.5 L603.5,259.7" fill="none" stroke="#4a504e" stroke-width="0.8"/>
<path d="M597.9000000000001,273.2 L600.7,276 L603.5,273.2" fill="none" stroke="#4a504e" stroke-width="0.8"/>
<circle cx="601.3" cy="249.6" r="10" fill="none" stroke="#3a403e" stroke-width="1.2"/>
<path d="M600.7,239.6 L600.7,244 C603.5,244.5 604,248 601.5,250.5 C599,253 597.5,250.5 600,248.5 C602,247 600.7,254 600.7,259.6" fill="none" stroke="#4a504e" stroke-width="0.8"/>
<text x="616" y="247.6" font-size="6.6" fill="#464b49" font-weight="bold" text-anchor="start" textLength="26.7" lengthAdjust="spacingAndGlyphs" letter-spacing="0.9">"CRUISE"</text>
<line x1="620" y1="249.6" x2="640" y2="249.6" stroke="#565b59" stroke-width="0.8"/>
<text x="615.4" y="256.6" font-size="6.6" fill="#464b49" font-weight="bold" text-anchor="start" textLength="32.4" lengthAdjust="spacingAndGlyphs" letter-spacing="0.9">INDICATOR</text>
<line x1="615.4" y1="258.6" x2="647.8" y2="258.6" stroke="#565b59" stroke-width="0.8"/>
<text x="663.1" y="227.2" font-size="6.6" fill="#3a3f3d" font-weight="normal" text-anchor="start" textLength="38.4" lengthAdjust="spacingAndGlyphs" letter-spacing="0.9">INSTRUMENT</text>
<line x1="663" y1="229.2" x2="701.5" y2="229.2" stroke="#565b59" stroke-width="0.8"/>
<text x="663.1" y="235.7" font-size="6.6" fill="#3a3f3d" font-weight="normal" text-anchor="start" textLength="25" lengthAdjust="spacingAndGlyphs" letter-spacing="0.9">CLUSTER</text>
<line x1="663" y1="237.7" x2="688" y2="237.7" stroke="#565b59" stroke-width="0.8"/>
<text x="663.1" y="244.8" font-size="6.6" fill="#3a3f3d" font-weight="normal" text-anchor="start" textLength="24" lengthAdjust="spacingAndGlyphs" letter-spacing="0.9">PRINTED</text>
<text x="663.1" y="253.4" font-size="6.6" fill="#3a3f3d" font-weight="normal" text-anchor="start" textLength="21" lengthAdjust="spacingAndGlyphs" letter-spacing="0.9">CIRCUIT</text>
<path d="M597.2,283 L597.2,281.4 L604.4,281.4 L604.4,283" fill="none" stroke="#3a403e" stroke-width="1.3"/>
<path d="M599.4,283 L599.4,457.8" fill="none" stroke="#3f4543" stroke-width="1.0" stroke-linejoin="miter" />
<path d="M603.4,283 L603.4,457.8" fill="none" stroke="#3f4543" stroke-width="1.0" stroke-linejoin="miter" />
<path d="M597.3,460.2 Q601.4,456.2 605.5,460.2" fill="none" stroke="#25352f" stroke-width="1.6"/>
<text x="577.9" y="377.1" font-size="6.82" fill="#4a4f4d" font-weight="bold" text-anchor="start" textLength="16.7" lengthAdjust="spacingAndGlyphs" letter-spacing="0.9">.5 WHT</text>
<text x="607.2" y="377.1" font-size="6.82" fill="#4a4f4d" font-weight="bold" text-anchor="start" textLength="5.4" lengthAdjust="spacingAndGlyphs" letter-spacing="0.9">85</text>
</g></svg></body></html>
